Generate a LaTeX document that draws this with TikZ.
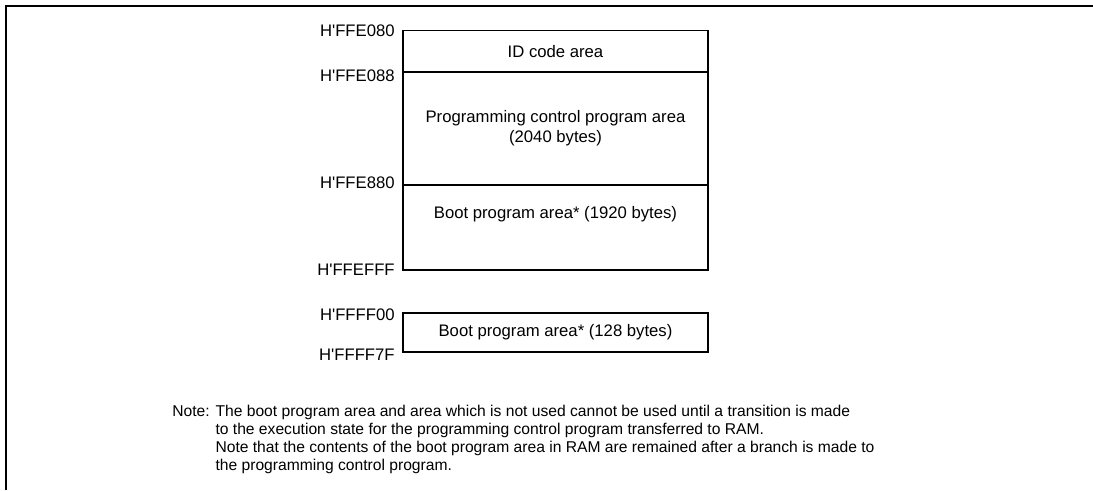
\documentclass[tikz,border=0pt]{standalone}
\usepackage{fontspec}
\setmainfont{Liberation Sans}
\usepackage{tikz}
\usetikzlibrary{positioning}

\newcommand{\hx}[1]{H\textquotesingle #1}

\begin{document}
\begin{tikzpicture}[
  area/.style={draw, line width=0.9pt, minimum width=6.1cm, inner sep=0pt,
               outer sep=0pt, align=center, font=\fontsize{9.5}{11.5}\selectfont},
  addr/.style={inner sep=0pt, font=\fontsize{9.5}{11}\selectfont},
  frame/.style={line width=1.2pt},
]
\useasboundingbox (0,0) rectangle (21.86,-9.8);
\draw[frame] (0.12,-9.8) coordinate (fb) -- (0.12,-0.12) -- (21.86,-0.12) coordinate (fr);

% memory map
\node[area, minimum height=0.83cm] (idarea) at (11.11,-1.025) {ID code area};
\node[area, minimum height=2.26cm, line width=1.1pt, below=0pt of idarea] (ctrlarea)
  {Programming control program area\\(2040 bytes)};
\node[area, minimum height=1.7cm, below=0pt of ctrlarea] (bootA) {};
\node[font=\fontsize{9.5}{11}\selectfont, below=0.3cm of bootA.north] (bootAtxt)
  {Boot program area* (1920 bytes)};
\node[area, minimum height=0.78cm] (bootB) at (11.11,-6.65)
  {Boot program area* (128 bytes)};

\node[addr, left=0.16cm of idarea.north west, anchor=east] {\hx{FFE080}};
\node[addr, left=0.16cm of ctrlarea.north west, anchor=east, yshift=-0.08cm] {\hx{FFE088}};
\node[addr, left=0.16cm of bootA.north west, anchor=east, yshift=0.05cm] {\hx{FFE880}};
\node[addr, left=0.16cm of bootA.south west, anchor=east] {\hx{FFEFFF}};
\node[addr, left=0.16cm of bootB.north west, anchor=east, yshift=-0.04cm] {\hx{FFFF00}};
\node[addr, left=0.16cm of bootB.south west, anchor=east, yshift=-0.05cm] {\hx{FFFF7F}};

\node[anchor=north west, inner sep=0pt, font=\fontsize{8.9}{10.1}\selectfont] (note) at (3.44,-8.08)
  {\begin{tabular}{@{}l@{ }l@{}}
   Note: & The boot program area and area which is not used cannot be used until a transition is made\\
         & to the execution state for the programming control program transferred to RAM.\\
         & Note that the contents of the boot program area in RAM are remained after a branch is made to\\
         & the programming control program.
   \end{tabular}};
\end{tikzpicture}
\end{document}
